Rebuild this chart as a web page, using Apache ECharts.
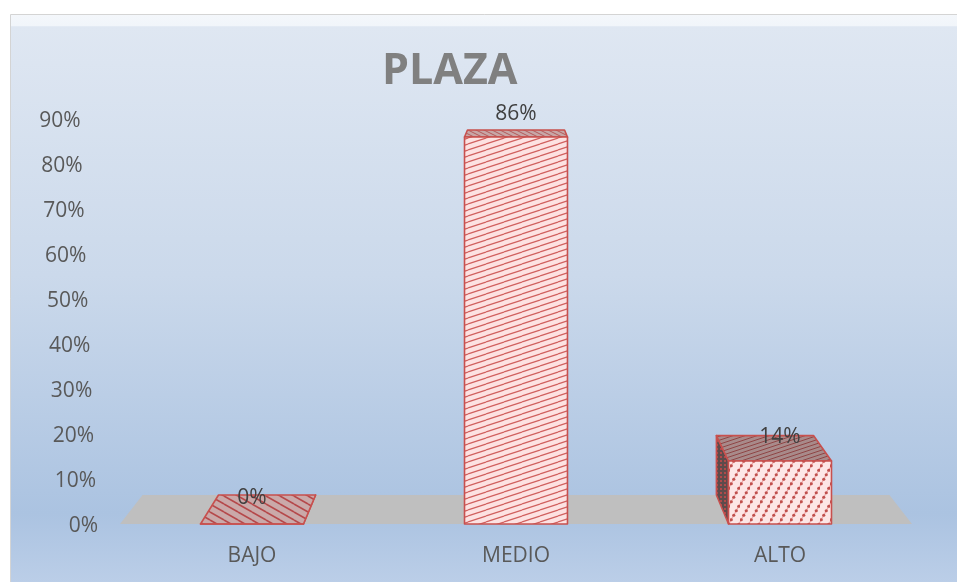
<!DOCTYPE html>
<html>
<head>
<meta charset="utf-8">
<script src="https://cdn.jsdelivr.net/npm/echarts@6/dist/echarts.min.js"></script>
<style>
  html, body { margin: 0; padding: 0; background: #ffffff; }
  #chart { width: 957px; height: 582px; }
</style>
</head>
<body>
<div id="chart"></div>
<script>
// ---- data ----
const categories = ['BAJO', 'MEDIO', 'ALTO'];
const values = [0, 86, 14];               // percent
const yTicks = [0, 10, 20, 30, 40, 50, 60, 70, 80, 90];
const yTickLabels = ['0%', '10%', '20%', '30%', '40%', '50%', '60%', '70%', '80%', '90%'];

// ---- pseudo-3D projection settings ----
const DEPTH_SCALE = 0.943;     // back plane shrink toward the vanishing point
const VP_ABOVE_TOP = 104;      // vanishing point height above plot top
const LABEL_SLANT = 0.192;     // y labels lean left as they go up (px per %)
const BAR_HALF = 0.195;        // bar half width, fraction of band
const FONT = '"Open Sans", "Noto Sans", sans-serif';

function makePattern(w, h, bg, draw) {
  const c = document.createElement('canvas');
  c.width = w; c.height = h;
  const g = c.getContext('2d');
  g.fillStyle = bg;
  g.fillRect(0, 0, w, h);
  draw(g, w, h);
  return { image: c, repeat: 'repeat' };
}
function rising(color, lw) {
  return function (g, w, h) {
    g.strokeStyle = color; g.lineWidth = lw;
    for (const dy of [-h, 0, h]) {
      g.beginPath(); g.moveTo(0, h + dy); g.lineTo(w, dy); g.stroke();
    }
  };
}
function falling(color, lw) {
  return function (g, w, h) {
    g.strokeStyle = color; g.lineWidth = lw;
    for (const dy of [-h, 0, h]) {
      g.beginPath(); g.moveTo(0, dy); g.lineTo(w, h + dy); g.stroke();
    }
  };
}
function dottedRising(lineColor, dotColor, n, r) {
  return function (g, w, h) {
    g.strokeStyle = lineColor; g.lineWidth = 1.2;
    for (const dx of [-w, 0, w]) {
      g.beginPath(); g.moveTo(dx, h); g.lineTo(dx + w, 0); g.stroke();
    }
    g.fillStyle = dotColor;
    for (let k = 0; k < n; k++) {
      const t = (k + 0.5) / n;
      g.beginPath(); g.arc(t * w, h - t * h, r, 0, Math.PI * 2); g.fill();
    }
  };
}
function dotGrid(color) {
  return function (g, w, h) {
    g.fillStyle = color;
    g.fillRect(0, 0, 2, 2);
  };
}

// face fills for each bar: front / top / side
const faceStyles = [
  {
    front: '#fde3e3',
    top: makePattern(14, 8, '#caa9a9', falling('#b5484a', 1.6)),
    side: '#a08080'
  },
  {
    front: makePattern(18, 6, '#fde2e2', rising('#d0605e', 1.2)),
    top: makePattern(8, 4, '#c8a6a6', falling('#b35a5a', 1)),
    side: '#a08080'
  },
  {
    front: makePattern(10, 18, '#fde6e6', dottedRising('#eeaaaa', '#c0504d', 4, 1.6)),
    top: makePattern(12, 4, '#a88a8a', rising('#8f4545', 1)),
    side: makePattern(4, 4, '#5e4b4b', dotGrid('#b04a4a'))
  }
];

function project(p, vp) {
  return [vp[0] + (p[0] - vp[0]) * DEPTH_SCALE, vp[1] + (p[1] - vp[1]) * DEPTH_SCALE];
}
function vanishing(cs) {
  return [cs.x + cs.width / 2, cs.y - VP_ABOVE_TOP];
}

const edge = { stroke: '#c8504e', lineWidth: 1.6, lineJoin: 'round' };

function renderFloor(params, api) {
  const cs = params.coordSys;
  const vp = vanishing(cs);
  const y0 = api.coord([0, 0])[1];
  const a = [cs.x, y0], b = [cs.x + cs.width, y0];
  return {
    type: 'polygon',
    shape: { points: [a, b, project(b, vp), project(a, vp)] },
    style: { fill: '#bfbfbf' }
  };
}

function renderBar(params, api) {
  const i = api.value(0), v = api.value(1);
  const cs = params.coordSys;
  const vp = vanishing(cs);
  const top = api.coord([i, v]);
  const base = api.coord([i, 0]);
  const hw = api.size([1, 0])[0] * BAR_HALF;
  const fl = [top[0] - hw, top[1]], fr = [top[0] + hw, top[1]];
  const bl = [top[0] - hw, base[1]], br = [top[0] + hw, base[1]];
  const pfl = project(fl, vp), pfr = project(fr, vp);
  const pbl = project(bl, vp), pbr = project(br, vp);
  const fs = faceStyles[params.dataIndex];
  const children = [];
  if (pfl[0] < fl[0] - 0.5) {
    children.push({ type: 'polygon', shape: { points: [pfl, fl, bl, pbl] },
      style: Object.assign({ fill: fs.side }, edge) });
  }
  if (pfr[0] > fr[0] + 0.5) {
    children.push({ type: 'polygon', shape: { points: [fr, pfr, pbr, br] },
      style: Object.assign({ fill: fs.side }, edge) });
  }
  children.push({ type: 'polygon', shape: { points: [pfl, pfr, fr, fl] },
    style: Object.assign({ fill: fs.top }, edge) });
  children.push({ type: 'polygon', shape: { points: [fl, fr, br, bl] },
    style: Object.assign({ fill: fs.front }, edge) });
  const topMid = (fl[1] + pfl[1]) / 2;
  children.push({
    type: 'text',
    x: top[0],
    y: Math.min(topMid - 11, fl[1] - 23),
    style: {
      text: v + '%', fill: '#404040', fontSize: 21, fontFamily: FONT,
      align: 'center', verticalAlign: 'middle'
    }
  });
  return { type: 'group', children: children };
}

function renderTickLabel(params, api) {
  const v = api.value(1);
  const cs = params.coordSys;
  const p = api.coord([0, v]);
  return {
    type: 'text',
    x: cs.x - 22 - v * LABEL_SLANT,
    y: p[1] + 2,
    style: {
      text: yTickLabels[params.dataIndex], fill: '#595959', fontSize: 21,
      fontFamily: FONT, align: 'right', verticalAlign: 'middle'
    }
  };
}

const chart = echarts.init(document.getElementById('chart'), null, { renderer: 'canvas' });
chart.setOption({
  animation: false,
  backgroundColor: '#ffffff',
  graphic: [{
    type: 'rect',
    z: -10,
    left: 10, top: 14,
    shape: { width: 960, height: 580 },
    style: {
      fill: new echarts.graphic.LinearGradient(0, 0, 0, 1, [
        { offset: 0, color: '#f4f7fb' },
        { offset: 0.02, color: '#f1f5fa' },
        { offset: 0.022, color: '#dfe7f2' },
        { offset: 0.45, color: '#cbd9eb' },
        { offset: 0.86, color: '#abc3e1' },
        { offset: 1, color: '#bed0e9' }
      ]),
      stroke: '#d4d4d4', lineWidth: 1
    }
  }],
  title: {
    text: 'PLAZA',
    left: 377, top: 45,
    textStyle: { fontSize: 43, fontWeight: 'bold', color: '#808080', fontFamily: FONT }
  },
  grid: { left: 120, right: 45, top: 119, bottom: 58 },
  xAxis: {
    type: 'category',
    data: categories,
    axisLine: { show: false },
    axisTick: { show: false },
    axisLabel: { color: '#595959', fontSize: 21, fontFamily: FONT, margin: 22 },
    splitLine: { show: false }
  },
  yAxis: {
    type: 'value',
    min: 0, max: 90, interval: 10,
    axisLine: { show: false },
    axisTick: { show: false },
    axisLabel: { show: false },
    splitLine: { show: false }
  },
  series: [
    { type: 'custom', name: 'floor', renderItem: renderFloor, data: [[0, 0]], z: 1, silent: true },
    { type: 'custom', name: 'ticks', renderItem: renderTickLabel,
      data: yTicks.map(t => [0, t]), z: 1, silent: true },
    { type: 'custom', name: 'PLAZA', renderItem: renderBar,
      data: values.map((v, i) => [i, v]), z: 3 }
  ]
});
</script>
</body>
</html>
